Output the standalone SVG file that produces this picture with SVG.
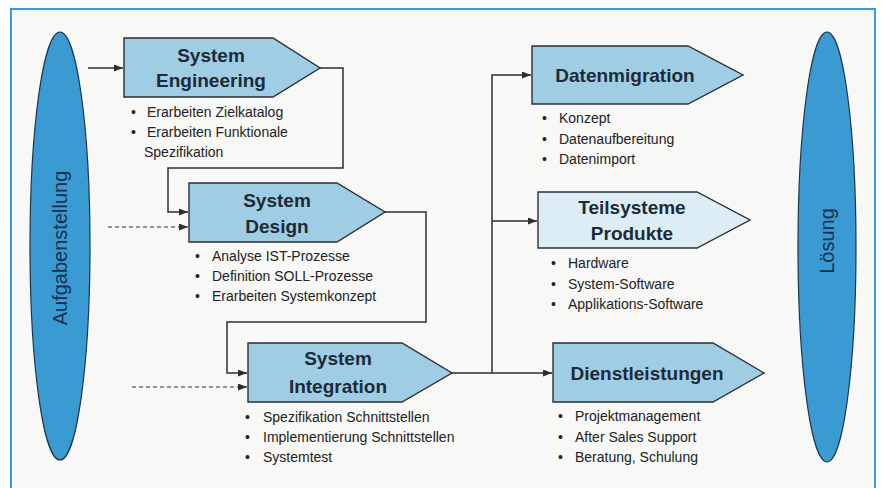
<svg xmlns="http://www.w3.org/2000/svg" width="881" height="488" viewBox="0 0 881 488">
<style>
.node{fill:#9fcde3;stroke:#2a2f36;stroke-width:1.4}
.light{fill:#dcedf5}
.title{font-family:"Liberation Sans",Arial,sans-serif;font-weight:bold;font-size:19px;fill:#1d2a38;text-anchor:middle}
.item{font-family:"Liberation Sans",Arial,sans-serif;font-size:14px;fill:#222}
.con{fill:none;stroke:#2e2e2e;stroke-width:1.5}
.dash{stroke-dasharray:4 3;stroke-width:1.2}
.oval{fill:#3a9bd2;stroke:#1d3550;stroke-width:1.2}
.otext{font-family:"Liberation Sans",Arial,sans-serif;font-size:20px;fill:#15304f;text-anchor:middle}
</style>
<defs>
<marker id="ah" markerUnits="userSpaceOnUse" markerWidth="10" markerHeight="8" refX="9" refY="3.5" orient="auto">
<path d="M0,0 L9,3.5 L0,7 z" fill="#2e2e2e"/>
</marker>
</defs>
<rect x="0" y="0" width="881" height="488" fill="#ffffff"/>
<rect x="11" y="9" width="864" height="490" fill="#f8f8f6" stroke="#3c9ad6" stroke-width="2"/>

<g id="aufgabenstellung">
<ellipse class="oval" cx="60" cy="246" rx="30" ry="214"/>
<text class="otext" transform="translate(67,248) rotate(-90)">Aufgabenstellung</text>
</g>
<g id="loesung">
<ellipse class="oval" cx="827" cy="247" rx="29" ry="215"/>
<text class="otext" transform="translate(834,241) rotate(-90)">Lösung</text>
</g>

<g id="connectors">
<path class="con" d="M88,68 H123" marker-end="url(#ah)"/>
<path class="con" d="M320,68 H343 V168 H168 V212 H188" marker-end="url(#ah)"/>
<path class="con dash" d="M108,227 H188" marker-end="url(#ah)"/>
<path class="con" d="M385,212 H426 V322 H227 V373 H247" marker-end="url(#ah)"/>
<path class="con dash" d="M132,387 H247" marker-end="url(#ah)"/>
<path class="con" d="M452,373 H552" marker-end="url(#ah)"/>
<path class="con" d="M492,373 V75 H531" marker-end="url(#ah)"/>
<path class="con" d="M492,221 H537" marker-end="url(#ah)"/>
</g>

<g id="system-engineering">
<polygon class="node" points="124,38 273,38 320,68 273,97 124,97"/>
<text class="title" x="211" y="62">System</text>
<text class="title" x="211" y="87">Engineering</text>
<text class="item" x="131" y="117">•</text><text class="item" x="147" y="117">Erarbeiten Zielkatalog</text>
<text class="item" x="131" y="137">•</text><text class="item" x="147" y="137">Erarbeiten Funktionale</text>
<text class="item" x="144" y="157">Spezifikation</text>
</g>

<g id="system-design">
<polygon class="node" points="189,183 337,183 385,212 337,242 189,242"/>
<text class="title" x="277" y="207">System</text>
<text class="title" x="277" y="233">Design</text>
<text class="item" x="195" y="261">•</text><text class="item" x="212" y="261">Analyse IST-Prozesse</text>
<text class="item" x="195" y="281">•</text><text class="item" x="212" y="281">Definition SOLL-Prozesse</text>
<text class="item" x="195" y="301">•</text><text class="item" x="212" y="301">Erarbeiten Systemkonzept</text>
</g>

<g id="system-integration">
<polygon class="node" points="248,343 402,343 452,373 402,402 248,402"/>
<text class="title" x="338" y="365">System</text>
<text class="title" x="338" y="393">Integration</text>
<text class="item" x="245" y="422">•</text><text class="item" x="263" y="422">Spezifikation Schnittstellen</text>
<text class="item" x="245" y="442">•</text><text class="item" x="263" y="442">Implementierung Schnittstellen</text>
<text class="item" x="245" y="462">•</text><text class="item" x="263" y="462">Systemtest</text>
</g>

<g id="datenmigration">
<polygon class="node" points="532,46 688,46 743,75 688,104 532,104"/>
<text class="title" x="625" y="82">Datenmigration</text>
<text class="item" x="542" y="123">•</text><text class="item" x="559" y="123">Konzept</text>
<text class="item" x="542" y="144">•</text><text class="item" x="559" y="144">Datenaufbereitung</text>
<text class="item" x="542" y="164">•</text><text class="item" x="559" y="164">Datenimport</text>
</g>

<g id="teilsysteme-produkte">
<polygon class="node light" points="538,192 697,192 750,220 697,248 538,248"/>
<text class="title" x="632" y="214">Teilsysteme</text>
<text class="title" x="632" y="240">Produkte</text>
<text class="item" x="551" y="268">•</text><text class="item" x="568" y="268">Hardware</text>
<text class="item" x="551" y="289">•</text><text class="item" x="568" y="289">System-Software</text>
<text class="item" x="551" y="309">•</text><text class="item" x="568" y="309">Applikations-Software</text>
</g>

<g id="dienstleistungen">
<polygon class="node" points="553,343 713,343 764,373 713,402 553,402"/>
<text class="title" x="647" y="380">Dienstleistungen</text>
<text class="item" x="558" y="421">•</text><text class="item" x="575" y="421">Projektmanagement</text>
<text class="item" x="558" y="442">•</text><text class="item" x="575" y="442">After Sales Support</text>
<text class="item" x="558" y="462">•</text><text class="item" x="575" y="462">Beratung, Schulung</text>
</g>
</svg>
